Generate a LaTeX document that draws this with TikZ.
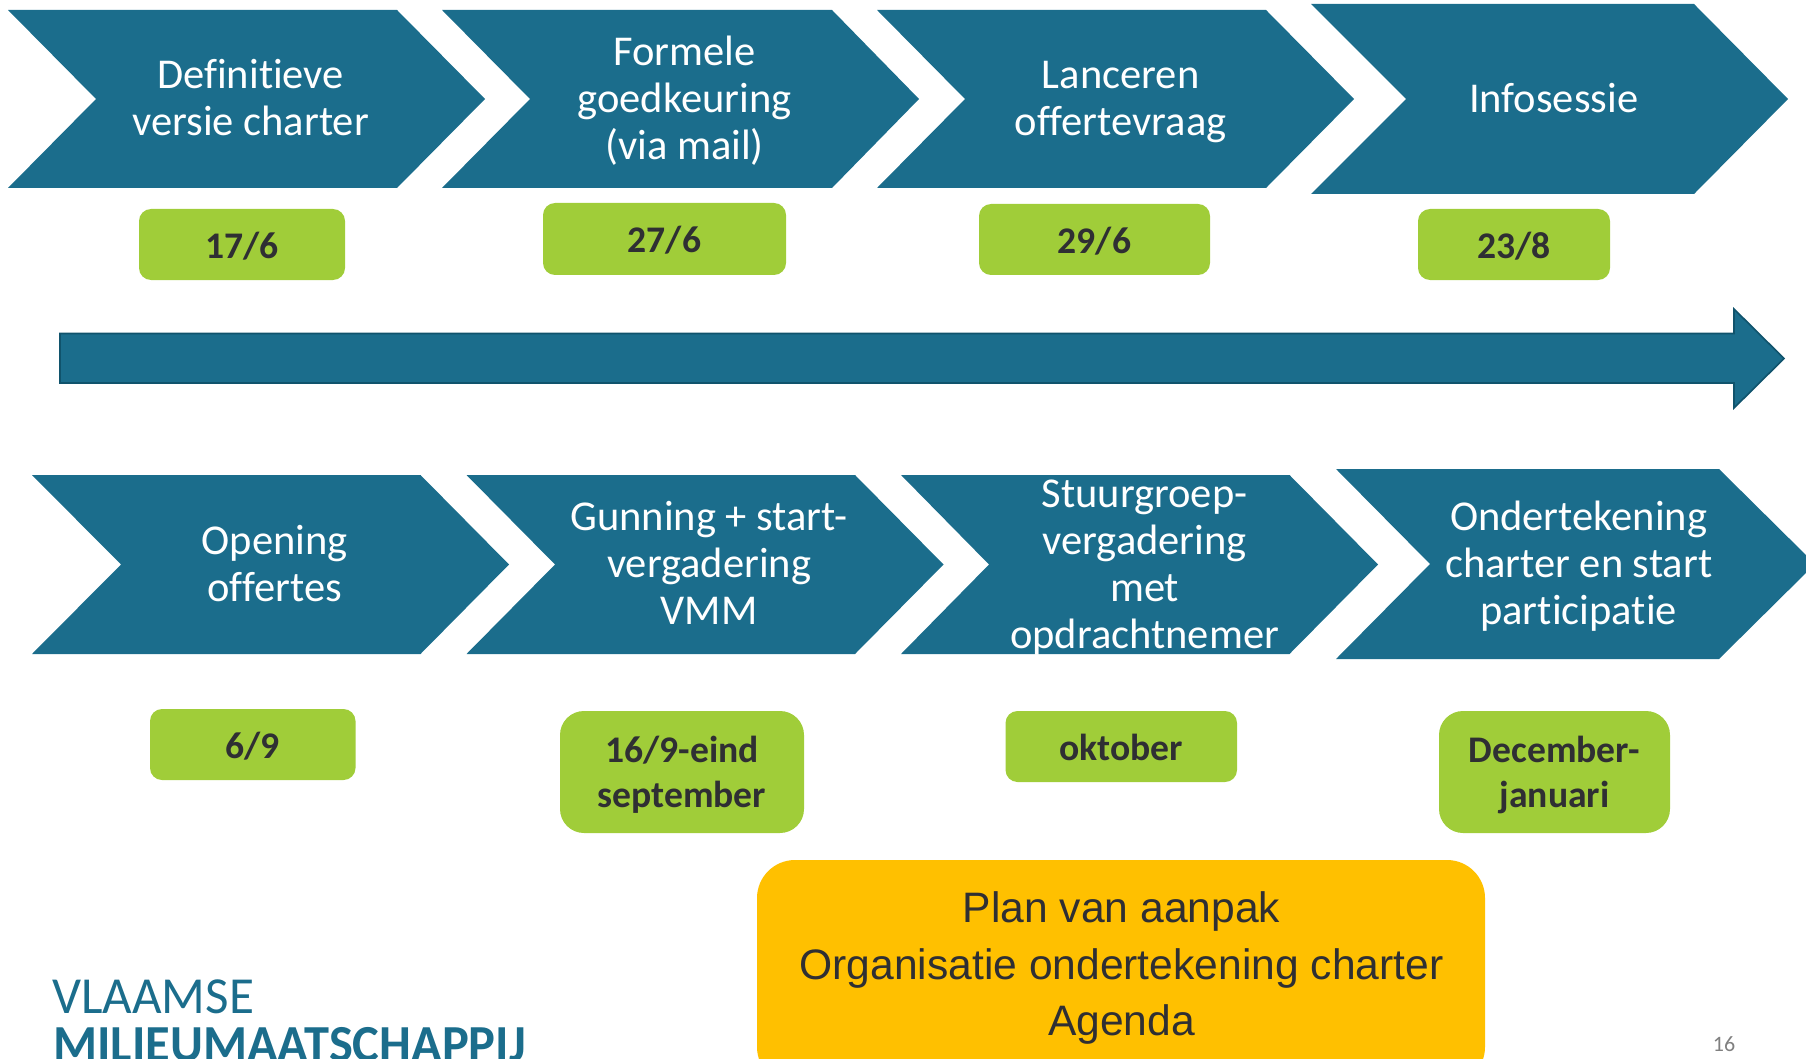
\documentclass[tikz,border=0pt]{standalone}
\usepackage{fontspec}
\setmainfont[Ligatures=NoCommon]{Carlito}
\newfontfamily\arialfont{Liberation Sans}
\definecolor{teal}{HTML}{1B6D8C}
\definecolor{tealdark}{HTML}{10536C}
\definecolor{limegreen}{HTML}{A0CD39}
\definecolor{amber}{HTML}{FFC000}
\definecolor{ink}{HTML}{2F2F33}
\tikzset{
  chevfill/.style={fill=teal},
  chevtext/.style={text=white,align=center,inner sep=0pt,font=\fontsize{42.5}{47}\selectfont},
  datebox/.style={fill=limegreen,rounded corners=#1},
  datetext/.style={text=ink,align=center,inner sep=0pt,font=\fontsize{37.6}{45}\selectfont\bfseries},
}
\newcommand{\chev}[9]{%
  \fill[chevfill] (#2,#6) -- (#5,#6) -- (#1,{(#6+#7)/2}) -- (#5,#7) -- (#2,#7) -- (#3,{(#6+#7)/2}) -- cycle;
  \node[chevtext] (#8) at (#4+0.6,{(#6+#7)/2+4}) {#9};}
\newcommand{\pill}[8]{%
  \fill[datebox=#6] (#2,#4) rectangle (#3,#5);
  \node[datetext] (#1) at ({(#2+#3)/2},{(#4+#5)/2+#7}) {#8};}
\begin{document}
\begin{tikzpicture}[x=1pt,y=-1pt]
\useasboundingbox (0,0) rectangle (1806,1059);
\clip (0,0) rectangle (1806,1059);
% top row: tip, left, notch, text x, shoulder, top, bottom
\chev{485}{8}{96}{250}{397}{10}{188}{c1}{Definitieve\strut\\versie charter\strut}
\chev{919}{442}{530}{684}{832}{10}{188}{c2}{Formele\strut\\goedkeuring\strut\\(via mail)\strut}
\chev{1354}{877}{965}{1120}{1266}{10}{188}{c3}{Lanceren\strut\\offertevraag\strut}
\chev{1788}{1311}{1406}{1553}{1694}{4}{194}{c4}{Infosessie\strut}
\pill{d1}{139}{345}{209}{280}{12}{2}{17/6}
\pill{d2}{543}{786}{203}{275}{12}{1}{27/6}
\pill{d3}{979}{1210}{204}{275}{12}{2}{29/6}
\pill{d4}{1418}{1610}{209}{280}{12}{1.5}{23/8}
% long arrow
\draw[fill=teal,draw=tealdark,line width=1.6pt] (60,333.5) -- (1734,333.5) -- (1734,309) -- (1784,358.5) -- (1734,408) -- (1734,383) -- (60,383) -- cycle;
% bottom row
\chev{509}{32}{121}{274}{420.5}{475}{654}{c5}{Opening\strut\\offertes\strut}
\chev{943.5}{466.5}{555}{708.5}{855}{475}{654}{c6}{Gunning + start-\strut\\vergadering\strut\\VMM\strut}
\chev{1378}{901}{989}{1144}{1289.5}{475}{654}{c7}{Stuurgroep-\strut\\vergadering\strut\\met\strut\\opdrachtnemer\strut}
\chev{1815}{1336}{1430}{1578}{1719}{469}{659}{c8}{Ondertekening\strut\\charter en start\strut\\participatie\strut}
\pill{d5}{150}{355.5}{709}{780}{12}{2}{6/9}
\pill{d6}{560}{804}{711}{833}{24}{4}{16/9-eind\strut\\september\strut}
\pill{d7}{1005.5}{1237}{711}{782}{12}{1}{oktober}
\pill{d8}{1439}{1670}{711}{833}{24}{4}{December-\strut\\januari\strut}
% plan box
\fill[fill=amber,rounded corners=38pt] (757,860) rectangle (1485,1085);
\node[text=ink,align=center,inner sep=0pt,font=\arialfont\fontsize{42.6}{56.5}\selectfont] (plan) at (1121.5,968) {Plan van aanpak\strut\\Organisatie ondertekening charter\strut\\Agenda\strut};
% logo
\node[text=teal,anchor=base west,inner sep=0pt,font=\fontsize{52}{52}\selectfont] (logoa) at (52,1013) {\scalebox{.983}[1]{VLAAMSE}};
\node[text=teal,anchor=base west,inner sep=0pt,font=\fontsize{52}{52}\selectfont\bfseries] (logob) at (53,1061) {\scalebox{.97}[1]{MILIEUMAATSCHAPPIJ}};
\node[text=black!50,anchor=base,inner sep=0pt,font=\fontsize{22}{22}\selectfont] (page) at (1724,1051) {16};
\end{tikzpicture}
\end{document}
